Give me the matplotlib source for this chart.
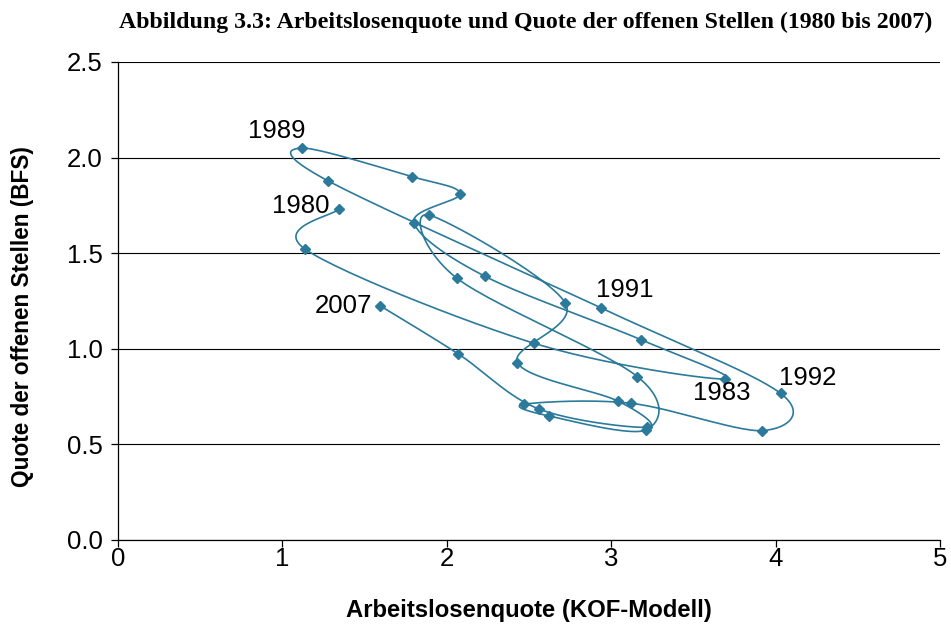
import numpy as np
import matplotlib
matplotlib.use('Agg')
import matplotlib.pyplot as plt

# Data (x: Arbeitslosenquote KOF, y: Quote offene Stellen BFS)
years = list(range(1980, 2008))
alq = [1.345, 1.14, 2.53, 3.69, 3.18, 2.23, 1.80, 2.08, 1.79, 1.12,
       1.276, 2.94, 4.03, 3.92, 3.12, 2.47, 2.62, 3.21, 3.16, 2.06,
       1.89, 2.72, 2.43, 3.04, 3.22, 2.56, 2.07, 1.594]
qos = [1.731, 1.52, 1.029, 0.842, 1.048, 1.38, 1.66, 1.81, 1.90, 2.05,
       1.879, 1.213, 0.767, 0.572, 0.715, 0.71, 0.649, 0.575, 0.854, 1.37,
       1.70, 1.241, 0.927, 0.727, 0.59, 0.685, 0.973, 1.225]

# labelled years and where their text sits
label_years = [1989, 1980, 2007, 1991, 1983, 1992]
label_x = [0.967, 1.113, 1.369, 3.084, 3.674, 4.197]
label_y = [2.139, 1.747, 1.224, 1.308, 0.769, 0.847]

col = '#2B7A9B'


def smooth(x, y, n=30):
    # Excel like smoothed line: cubic bezier with catmull-rom control points
    p = np.column_stack([x, y])
    pts = np.vstack([p[0], p, p[-1]])
    out = []
    for i in range(1, len(pts) - 2):
        p0, p1, p2, p3 = pts[i - 1], pts[i], pts[i + 1], pts[i + 2]
        c1 = p1 + (p2 - p0) / 6.0
        c2 = p2 - (p3 - p1) / 6.0
        t = np.linspace(0, 1, n)[:, None]
        seg = ((1 - t)**3 * p1 + 3 * (1 - t)**2 * t * c1
               + 3 * (1 - t) * t**2 * c2 + t**3 * p2)
        out.append(seg if i == 1 else seg[1:])
    out = np.vstack(out)
    return out[:, 0], out[:, 1]


plt.rcParams['font.family'] = 'Liberation Sans'
fig = plt.figure(figsize=(9.51, 6.30), dpi=100)
ax = fig.add_axes([0.1241, 0.1429, 0.8643, 0.7587])

sx, sy = smooth(alq, qos)
ax.plot(sx, sy, color=col, lw=1.2, zorder=3)
ax.plot(alq, qos, 'D', color=col, ms=4.6, zorder=4)

for yr, tx, ty in zip(label_years, label_x, label_y):
    ax.text(tx, ty, str(yr), fontsize=18.5, ha='center', va='center', zorder=5)

ax.set_xlim(0, 5)
ax.set_ylim(0, 2.5)
ax.set_xticks(range(0, 6))
ax.set_yticks(np.arange(0, 2.51, 0.5))
ax.set_yticklabels(['%.1f' % v for v in np.arange(0, 2.51, 0.5)])
ax.tick_params(labelsize=18.5, length=5, width=0.9, color='black')
ax.tick_params(axis='x', pad=0)
ax.tick_params(axis='y', pad=6)
ax.yaxis.grid(True, color='black', lw=0.8)
ax.set_axisbelow(True)
for s in ['top', 'right']:
    ax.spines[s].set_visible(False)
for s in ['left', 'bottom']:
    ax.spines[s].set_linewidth(0.9)

ax.set_xlabel('Arbeitslosenquote (KOF-Modell)', fontsize=17.2, fontweight='bold', va='center')
ax.set_ylabel('Quote der offenen Stellen (BFS)', fontsize=16.3, fontweight='bold', va='center')
ax.xaxis.set_label_coords(0.5, -0.1485)
ax.yaxis.set_label_coords(-0.1168, 0.4665)

fig.text(0.553, 0.965, 'Abbildung 3.3: Arbeitslosenquote und Quote der offenen Stellen (1980 bis 2007)',
         ha='center', va='center', fontsize=17.2, fontweight='bold', family='Liberation Serif')

fig.savefig('out.png', dpi=100)
